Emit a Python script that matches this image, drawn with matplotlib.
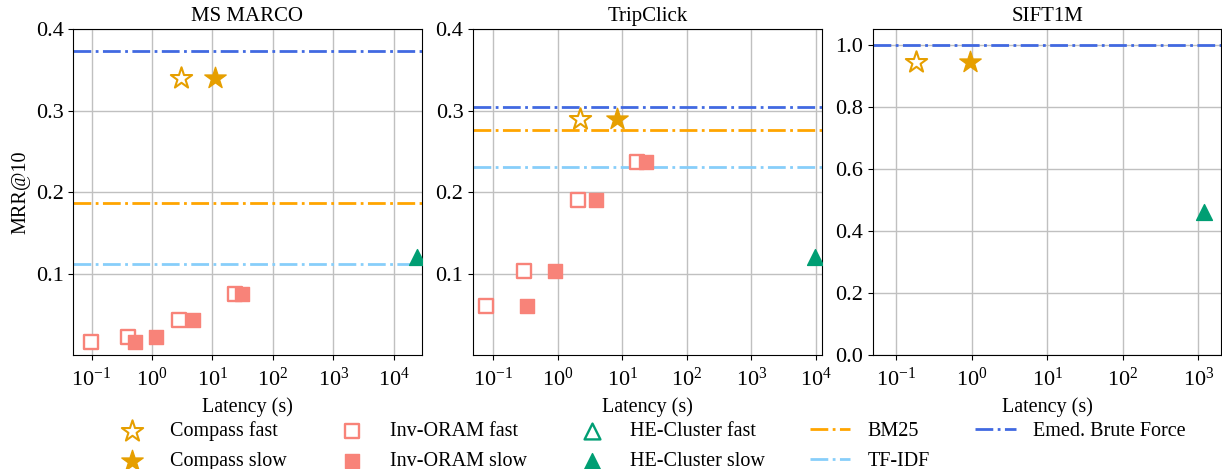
import matplotlib
matplotlib.use("Agg")
import matplotlib.pyplot as plt
import numpy as np

plt.rcParams['font.family'] = ['Liberation Serif', 'DejaVu Serif']
plt.rcParams['mathtext.fontset'] = 'stix'

# ---- data ----
datasets = ["MS MARCO", "TripClick", "SIFT1M"]

compass_fast_x = [3.06, 2.2, 0.18]
compass_fast_y = [0.340, 0.290, 0.944]
compass_slow_x = [11.2, 8.2, 0.94]
compass_slow_y = [0.340, 0.290, 0.944]

inv_fast_x = [[0.098, 0.40, 2.84, 23.2], [0.078, 0.30, 2.06, 17.0], []]
inv_fast_y = [[0.016, 0.0225, 0.0435, 0.075], [0.0605, 0.103, 0.191, 0.2365], []]
inv_slow_x = [[0.53, 1.16, 4.84, 31.0], [0.34, 0.92, 3.96, 23.5], []]
inv_slow_y = [[0.016, 0.0225, 0.0435, 0.075], [0.0605, 0.103, 0.191, 0.2365], []]

# HE-Cluster fast has no point inside the plotted ranges
he_fast_x = [[], [], []]
he_fast_y = [[], [], []]
he_slow_x = [23800, 9800, 1190]
he_slow_y = [0.120, 0.120, 0.46]

bm25 = [0.187, 0.276, None]
tfidf = [0.112, 0.231, None]
embed_bf = [0.373, 0.305, 1.0]

xlims = [(0.050, 28800), (0.049, 12200), (0.049, 2018)]
ylims = [(0.0, 0.4), (0.0, 0.4), (0.0, 1.05)]
yticks = [[0.1, 0.2, 0.3, 0.4], [0.1, 0.2, 0.3, 0.4], [0.0, 0.2, 0.4, 0.6, 0.8, 1.0]]

c_compass = '#E69F00'
c_inv = '#F88379'
c_he = '#009E73'
c_bm25 = '#FFA500'
c_tfidf = '#87CEFA'
c_embed = '#4169E1'

fig, axes = plt.subplots(1, 3, figsize=(12.22, 4.69), dpi=100)
fig.subplots_adjust(left=0.06, right=0.9995, bottom=0.243, top=0.9375, wspace=0.148)

for i, ax in enumerate(axes):
    ax.set_xscale('log')
    ax.grid(True, color='#c0c0c0', linewidth=1.0, zorder=0)
    ax.set_axisbelow(True)

    if bm25[i] is not None:
        ax.axhline(bm25[i], color=c_bm25, linestyle='-.', linewidth=2, label='BM25', zorder=2)
        ax.axhline(tfidf[i], color=c_tfidf, linestyle='-.', linewidth=2, label='TF-IDF', zorder=2)
    ax.axhline(embed_bf[i], color=c_embed, linestyle='-.', linewidth=2, label='Emed. Brute Force', zorder=2)

    ax.scatter(compass_fast_x[i], compass_fast_y[i], marker='*', s=260, facecolor='white',
               edgecolor=c_compass, linewidth=1.5, label='Compass fast', zorder=3)
    ax.scatter(compass_slow_x[i], compass_slow_y[i], marker='*', s=260, color=c_compass,
               label='Compass slow', zorder=3)
    ax.scatter(inv_fast_x[i], inv_fast_y[i], marker='s', s=100, facecolor='white',
               edgecolor=c_inv, linewidth=1.7, label='Inv-ORAM fast', zorder=3)
    ax.scatter(inv_slow_x[i], inv_slow_y[i], marker='s', s=100, color=c_inv,
               label='Inv-ORAM slow', zorder=3)
    ax.scatter(he_fast_x[i], he_fast_y[i], marker='^', s=130, facecolor='white',
               edgecolor=c_he, linewidth=1.7, label='HE-Cluster fast', zorder=3)
    ax.scatter(he_slow_x[i], he_slow_y[i], marker='^', s=130, color=c_he,
               label='HE-Cluster slow', zorder=3)

    ax.set_ylim(*ylims[i])
    ax.set_yticks(yticks[i])
    ax.set_xticks([10.0 ** k for k in range(-1, 5)])
    ax.set_xlim(*xlims[i])
    ax.xaxis.set_minor_locator(matplotlib.ticker.NullLocator())
    ax.tick_params(axis='y', labelsize=16)
    ax.tick_params(axis='x', labelsize=16, pad=5.5)
    ax.set_title(datasets[i], fontsize=15)
    ax.set_xlabel('Latency (s)', fontsize=14.5, labelpad=5)

axes[0].set_ylabel('MRR@10', fontsize=14.5)

handles, labels = axes[0].get_legend_handles_labels()
order = ['Compass fast', 'Compass slow', 'Inv-ORAM fast', 'Inv-ORAM slow',
         'HE-Cluster fast', 'HE-Cluster slow', 'BM25', 'TF-IDF', 'Emed. Brute Force']
lookup = dict(zip(labels, handles))
fig.legend([lookup[k] for k in order], order, loc='center', bbox_to_anchor=(0.531, 0.049),
           ncol=5, frameon=False, fontsize=14.5, columnspacing=2.25, handletextpad=0.87,
           labelspacing=0.55, borderpad=0.2)

fig.savefig('out.png', dpi=100)
